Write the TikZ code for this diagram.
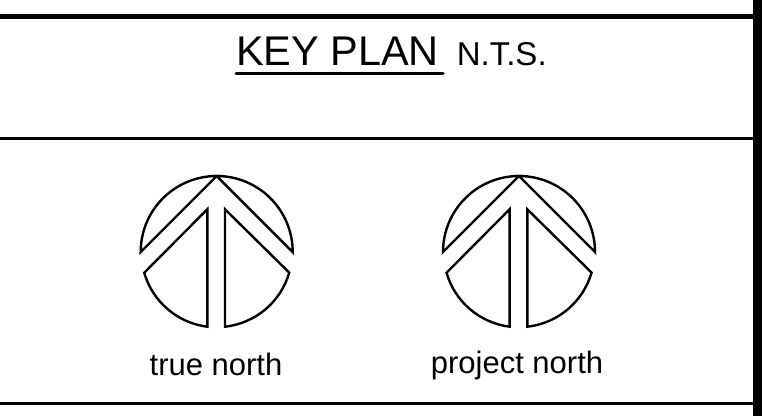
\documentclass[tikz,border=0pt]{standalone}
\usepackage{fontspec}
\setmainfont{Liberation Sans}
\tikzset{
  rule/.style={draw=black,line width=#1},
  mark outline/.style={draw=black,line width=2.4pt,line join=miter,line cap=round},
  lbl/.style={inner sep=0pt,anchor=base,text=black},
}
\newcommand{\northmark}[2]{%
  \begin{scope}[shift={(#1,#2)},yscale=-1]
    % upper chevron, two halves meeting at the apex
    \draw[mark outline] (-76,0) arc[start angle=180,end angle=90,radius=76] -- cycle;
    \draw[mark outline] (76,0) arc[start angle=0,end angle=90,radius=76] -- cycle;
    % lower left and right blades
    \draw[mark outline] (-9.4,42.7) -- (-9.4,-74.7) arc[start angle=262.8,end angle=196.1,radius=75.5] -- cycle;
    \draw[mark outline] (8.3,42.7) -- (8.3,-74.7) arc[start angle=-83.7,end angle=-16.1,radius=75.5] -- cycle;
  \end{scope}}
\begin{document}
\begin{tikzpicture}[x=1pt,y=-1pt]
  \useasboundingbox (0,0) rectangle (762,416);
  \fill[white] (0,0) rectangle (762,416);
  \coordinate (tl) at (0,16.7); \coordinate (tr) at (753,16.7);
  \coordinate (ml) at (0,138.5); \coordinate (mr) at (753,138.5);
  \coordinate (bl) at (0,403.3); \coordinate (br) at (753,403.3);
  \coordinate (vt) at (757.5,0); \coordinate (vb) at (757.5,416);
  \draw[rule=5pt] (tl) -- (tr);
  \draw[rule=2.8pt] (ml) -- (mr);
  \draw[rule=3.4pt] (bl) -- (br);
  \draw[rule=9pt] (vt) -- (vb);
  \node[lbl,font=\fontsize{41.5}{41.5}\selectfont] (kp) at (337.5,65) {KEY PLAN};
  \coordinate (ua) at (236,73.8); \coordinate (ub) at (443,73.8);
  \draw[rule=3pt,line cap=round] (ua) -- (ub);
  \node[lbl,font=\fontsize{33}{33}\selectfont] (nts) at (501.7,65.7) {N.T.S.};
  \northmark{216.7}{252}
  \northmark{519}{252}
  \node[lbl,font=\fontsize{31}{31}\selectfont] (tn) at (216,375) {true north};
  \node[lbl,font=\fontsize{31}{31}\selectfont] (pn) at (517,373) {project north};
\end{tikzpicture}
\end{document}
